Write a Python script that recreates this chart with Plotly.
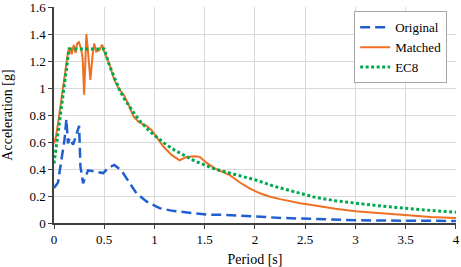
import plotly.graph_objects as go

# Period [s] and spectral acceleration [g]
orig_T = [0, 0.04, 0.06, 0.075, 0.09, 0.105, 0.123, 0.139, 0.156, 0.173, 0.19, 0.216,
          0.25, 0.263, 0.289, 0.339, 0.40, 0.49, 0.54, 0.60, 0.67, 0.74, 0.82, 0.92,
          1.05, 1.18, 1.35, 1.52, 1.7, 1.95, 2.28, 2.6, 3.0, 3.5, 4.0]
orig_A = [0.26, 0.30, 0.40, 0.47, 0.53, 0.62, 0.77, 0.59, 0.63, 0.61, 0.58, 0.64,
          0.72, 0.42, 0.295, 0.39, 0.38, 0.37, 0.41, 0.43, 0.39, 0.31, 0.22, 0.16,
          0.11, 0.09, 0.074, 0.062, 0.06, 0.049, 0.037, 0.03, 0.02, 0.017, 0.015]

match_T = [0, 0.02, 0.05, 0.08, 0.10, 0.12, 0.14, 0.156, 0.176, 0.196, 0.215, 0.23,
           0.248, 0.27, 0.285, 0.30, 0.322, 0.335, 0.362, 0.385, 0.40, 0.42, 0.45,
           0.48, 0.50, 0.55, 0.60, 0.65, 0.69, 0.74, 0.79, 0.84, 0.92, 0.97, 1.02,
           1.09, 1.17, 1.25, 1.32, 1.40, 1.45, 1.52, 1.60, 1.65, 1.75, 1.85, 1.95,
           2.05, 2.15, 2.25, 2.35, 2.45, 2.55, 2.65, 2.8, 3.0, 3.25, 3.5, 3.75, 4.0]
match_A = [0.59, 0.64, 0.79, 0.95, 1.07, 1.19, 1.27, 1.30, 1.25, 1.32, 1.26, 1.33,
           1.34, 1.29, 1.22, 0.95, 1.40, 1.30, 1.06, 1.25, 1.33, 1.27, 1.28,
           1.32, 1.27, 1.18, 1.06, 0.99, 0.955, 0.88, 0.79, 0.75, 0.72, 0.69, 0.64,
           0.565, 0.505, 0.465, 0.49, 0.495, 0.49, 0.445, 0.405, 0.39, 0.355, 0.30, 0.255,
           0.22, 0.195, 0.177, 0.16, 0.147, 0.135, 0.122, 0.105, 0.087, 0.072, 0.057, 0.045, 0.037]

ec8_T = [0, 0.15, 0.5, 0.55, 0.6, 0.65, 0.7, 0.75, 0.8, 0.85, 0.9, 0.95, 1.0, 1.1, 1.2,
         1.3, 1.4, 1.5, 1.6, 1.7, 1.8, 1.9, 2.0, 2.2, 2.4, 2.6, 2.8, 3.0, 3.2, 3.4,
         3.6, 3.8, 4.0]
ec8_A = [0.44, 1.29, 1.29, 1.17, 1.08, 0.99, 0.92, 0.86, 0.81, 0.76, 0.72, 0.68, 0.65,
         0.59, 0.54, 0.50, 0.46, 0.43, 0.40, 0.38, 0.36, 0.34, 0.32, 0.27, 0.23, 0.19,
         0.165, 0.145, 0.13, 0.115, 0.10, 0.09, 0.08]

x_ticks = [0, 0.5, 1, 1.5, 2, 2.5, 3, 3.5, 4]
x_tick_text = ["0", "0.5", "1", "1.5", "2", "2.5", "3", "3.5", "4"]
y_ticks = [0, 0.2, 0.4, 0.6, 0.8, 1.0, 1.2, 1.4, 1.6]
y_tick_text = ["0", "0.2", "0.4", "0.6", "0.8", "1", "1.2", "1.4", "1.6"]

FONT = "Liberation Serif"

fig = go.Figure()
fig.add_trace(go.Scatter(x=orig_T, y=orig_A, mode="lines", name="Original",
                         line=dict(color="#1F5FCF", width=2.5, dash="10px,5px")))
fig.add_trace(go.Scatter(x=match_T, y=match_A, mode="lines", name="Matched",
                         line=dict(color="#F07022", width=2)))
fig.add_trace(go.Scatter(x=ec8_T, y=ec8_A, mode="lines", name="EC8",
                         line=dict(color="#00A84F", width=3, dash="3px,2.5px")))

axis_common = dict(showgrid=True, gridcolor="#D9D9D9", gridwidth=1,
                   showline=True, linecolor="#404040", linewidth=1.5,
                   ticks="outside", ticklen=4, tickcolor="#404040",
                   zeroline=False, automargin=False, tickmode="array",
                   ticklabeloverflow="allow",
                   tickfont=dict(family=FONT, size=13, color="black"))

fig.update_layout(
    width=461, height=267,
    margin=dict(l=54, r=5, t=7, b=44),
    paper_bgcolor="white", plot_bgcolor="white",
    font=dict(family=FONT, size=13, color="black"),
    xaxis=dict(range=[0, 4.0005], tickvals=x_ticks, ticktext=x_tick_text,
               title=dict(text="Period [s]", font=dict(family=FONT, size=14)),
               **axis_common),
    yaxis=dict(range=[0, 1.6005], tickvals=y_ticks, ticktext=y_tick_text,
               title=dict(text="Acceleration [g]", font=dict(family=FONT, size=14)),
               **axis_common),
    legend=dict(x=0.978, y=0.98, xanchor="right", yanchor="top",
                bgcolor="white", bordercolor="#A6A6A6", borderwidth=1,
                font=dict(family=FONT, size=13), tracegroupgap=0, itemwidth=30),
    showlegend=True,
)

fig.write_html("out.html", config={"displayModeBar": False},
               post_script="document.body.style.margin='0';")
